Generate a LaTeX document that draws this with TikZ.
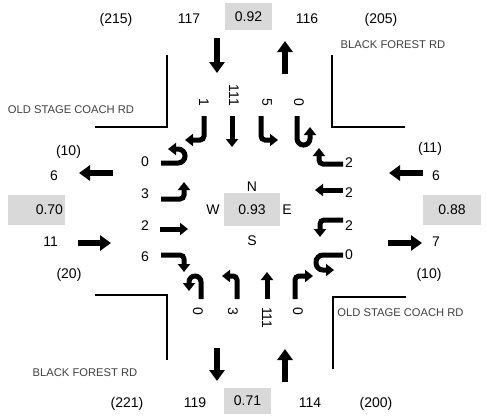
\documentclass[tikz,border=0pt]{standalone}
\usepackage{fontspec}
\setmainfont{Liberation Sans}
\usepackage{tikz}
\usetikzlibrary{positioning, arrows.meta}

\definecolor{phfgrey}{HTML}{D9D9D9}
\definecolor{roadgrey}{HTML}{404040}

\begin{document}
\begin{tikzpicture}[
      x=1pt, y=-1pt,
      every node/.style={inner sep=0pt},
      num/.style={
        font=\fontsize{14}{14}\selectfont
      },
      phf/.style={
        num,
        fill=phfgrey,
        align=center
      },
      rotnum/.style={
        num,
        rotate=-90
      },
      road/.style={
        font=\fontsize{11.2}{11.2}\selectfont,
        text=roadgrey
      },
      curb/.style={
        line width=2pt
      },
      move/.style={
        line width=5pt,
        rounded corners=4pt,
        -{Triangle[width=12pt,length=8pt]}
      },
      flow/.style={
        line width=6pt,
        -{Triangle[width=15pt,length=11pt]}
      }
    ]

    \useasboundingbox (0,0) rectangle (486,416);

    % peak hour factors
    \node[phf, minimum width=56pt, minimum height=33pt] (ctr) at (252,209.5) {0.93};
    \node[phf, minimum width=47pt, minimum height=27pt] (nPhf) at (248.5,16.5) {0.92};
    \node[phf, minimum width=47pt, minimum height=26pt] (sPhf) at (247.5,400.5) {0.71};
    \node[phf, minimum width=57pt, minimum height=30pt, text width=53pt, align=right] (wPhf) at (36.5,210) {0.70};
    \node[phf, minimum width=58pt, minimum height=30pt] (ePhf) at (452,210) {0.88};

    \node[num, above=1pt of ctr] (compN) {N};
    \node[num, below=9pt of ctr] (compS) {S};
    \node[num, left=4pt of ctr] (compW) {W};
    \node[num, right=2pt of ctr] (compE) {E};

    % approach and departure volumes
    \node[num, anchor=base] (nPk) at (116,23.5) {(215)};
    \node[num, anchor=base] (nIn) at (189,23.5) {117};
    \node[num, anchor=base] (nOut) at (307,23.5) {116};
    \node[num, anchor=base] (nOutPk) at (381,23.5) {(205)};

    \node[num, anchor=base] (sPk) at (127,407) {(221)};
    \node[num, anchor=base] (sOut) at (195,407) {119};
    \node[num, anchor=base] (sIn) at (310,407) {114};
    \node[num, anchor=base] (sInPk) at (376,407) {(200)};

    \node[num, anchor=base] (wPk) at (68.5,155) {(10)};
    \node[num, anchor=base east] (wOut) at (58,180) {6};
    \node[num, anchor=base east] (wIn) at (58,246) {11};
    \node[num, anchor=base] (wInPk) at (69,278) {(20)};

    \node[num, anchor=base] (ePk) at (430,152) {(11)};
    \node[num, anchor=base] (eIn) at (436,180) {6};
    \node[num, anchor=base] (eOut) at (436,246) {7};
    \node[num, anchor=base] (eOutPk) at (429,278) {(10)};

    % turning movement counts
    \node[rotnum, anchor=east] (nbR) at (204,106) {1};
    \node[rotnum, anchor=east] (nbT) at (234,106) {111};
    \node[rotnum, anchor=east] (nbL) at (267,106) {5};
    \node[rotnum, anchor=east] (nbU) at (299,106) {0};

    \node[rotnum, anchor=west] (sbU) at (198,307) {0};
    \node[rotnum, anchor=west] (sbL) at (233,307) {3};
    \node[rotnum, anchor=west] (sbT) at (267,307) {111};
    \node[rotnum, anchor=west] (sbR) at (298,307) {0};

    \node[num, anchor=base east] (wbU) at (149,166.5) {0};
    \node[num, anchor=base east] (wbL) at (149,198.5) {3};
    \node[num, anchor=base east] (wbT) at (149,230) {2};
    \node[num, anchor=base east] (wbR) at (149,261.5) {6};

    \node[num, anchor=base west] (ebR) at (345,167) {2};
    \node[num, anchor=base west] (ebT) at (345,197) {2};
    \node[num, anchor=base west] (ebL) at (345,230) {2};
    \node[num, anchor=base west] (ebU) at (345,259) {0};

    % street names
    \node[road, anchor=base] (rdNW) at (71,113) {OLD STAGE COACH RD};
    \node[road, anchor=base] (rdNE) at (393,48) {BLACK FOREST RD};
    \node[road, anchor=base] (rdSE) at (400.5,316) {OLD STAGE COACH RD};
    \node[road, anchor=base] (rdSW) at (85,376) {BLACK FOREST RD};

    % curbs
    \draw[curb] (95,127) -- (167,127) -- (167,55);
    \draw[curb] (332,55) -- (332,127) -- (405,127);
    \draw[curb] (95,295) -- (167,295) -- (167,360);
    \draw[curb] (406,297) -- (333,297) -- (333,369);

    % approach flows
    \draw[flow] (217,38) -- (217,73);
    \draw[flow] (285,74) -- (285,41);
    \draw[flow] (217,348) -- (217,381);
    \draw[flow] (285,382) -- (285,349);
    \draw[flow] (113,173) -- (79,173);
    \draw[flow] (78,243) -- (111,243);
    \draw[flow] (388,243) -- (422,243);
    \draw[flow] (423,173) -- (389,173);

    % movements from the north
    \draw[move] (204,116) -- (204,140) -- (185,140);
    \draw[move] (232,116) -- (232,147);
    \draw[move] (261,116) -- (261,140) -- (278,140);
    \draw[move, rounded corners=6.5pt] (297,116) -- (297,145) -- (310,145) -- (310,127);

    % movements from the south
    \draw[move, rounded corners=6pt] (201,299) -- (201,276) -- (189,276) -- (189,291);
    \draw[move] (237,299) -- (237,276) -- (222,276);
    \draw[move] (267,299) -- (267,272);
    \draw[move] (295,299) -- (295,276) -- (313,276);

    % movements from the west
    \draw[move, rounded corners=7pt] (161,163) -- (185,163) -- (185,149) -- (168,149);
    \draw[move] (161,199) -- (184,199) -- (184,182);
    \draw[move] (160,229) -- (188,229);
    \draw[move] (161,255) -- (184,255) -- (184,272);

    % movements from the east
    \draw[move] (343,164) -- (319,164) -- (319,148);
    \draw[move] (343,190) -- (315,190);
    \draw[move] (343,220) -- (320,220) -- (320,237);
    \draw[move, rounded corners=7pt] (343,255) -- (316,255) -- (316,270) -- (334,270);

    \end{tikzpicture}
\end{document}
